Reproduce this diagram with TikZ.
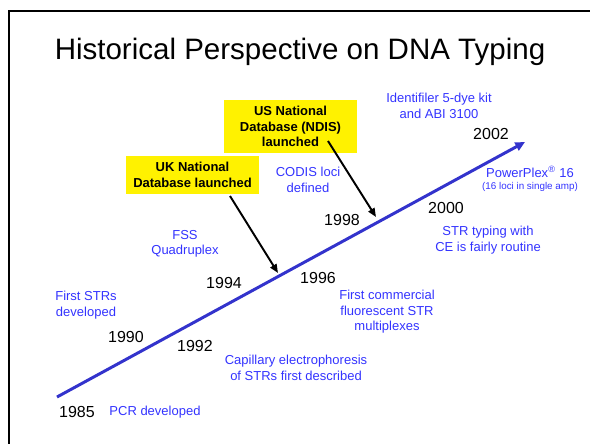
\documentclass[tikz,border=0pt]{standalone}
\usepackage{fontspec}
\setmainfont{Liberation Sans}
\usetikzlibrary{arrows.meta}
\definecolor{evblue}{RGB}{51,51,255}
\definecolor{lineblue}{RGB}{51,51,204}
\begin{document}
\begin{tikzpicture}[x=0.02cm,y=-0.02cm,
  event/.style={text=evblue,align=center,inner sep=0pt,font=\fontsize{7.4}{8.8}\selectfont},
  year/.style={inner sep=0pt,font=\fontsize{9.1}{10}\selectfont},
  dbbox/.style={fill=yellow,align=center,inner sep=0pt,minimum width=2.66cm,font=\bfseries\fontsize{7.4}{8.8}\selectfont},
  pointer/.style={line width=1.1pt,-{Triangle[length=5pt,width=4pt]}},
  timeline/.style={draw=lineblue,line width=1.7pt,-{Triangle[length=5.5pt,width=5pt]}}]
\useasboundingbox (0,0) rectangle (590,444);
\draw[line width=1.1pt] (590,10.7) -- (8.7,10.7) -- (8.7,444);
\node at (300,59) [anchor=base,inner sep=0pt,font=\fontsize{16.8}{20}\selectfont] (title) {Historical Perspective on DNA Typing};

% the time axis
\coordinate (t1985) at (57,397);
\coordinate (t2002) at (525,142);
\draw[timeline] (t1985) -- (t2002);

% years
\node at ( 77,412) [year] (y1985) {1985};
\node at (126,337) [year] (y1990) {1990};
\node at (195,346) [year] (y1992) {1992};
\node at (224,283) [year] (y1994) {1994};
\node at (318,278) [year] (y1996) {1996};
\node at (342,220) [year] (y1998) {1998};
\node at (446,208) [year] (y2000) {2000};
\node at (491,134) [year] (y2002) {2002};

% events
\node at (155,412) [event] (pcr) {PCR developed};
\node at ( 86,305) [event] (firststrs) {First STRs\\developed};
\node at (296,368) [event] (capillary) {Capillary electrophoresis\\of STRs first described};
\node at (185,244) [event] (fss) {FSS\\Quadruplex};
\node at (387,312) [event] (commercial) {First commercial\\fluorescent STR\\multiplexes};
\node at (308,180) [event] (codis) {CODIS loci\\defined};
\node at (488,240) [event] (strce) {STR typing with\\CE is fairly routine};
\node at (439,106) [event] (identifiler) {Identifiler 5-dye kit\\and ABI 3100};
\node at (530,172) [event] (powerplex) {PowerPlex\textsuperscript{\textregistered} 16};
\node at (530,187) [event,font=\fontsize{5.6}{6.5}\selectfont] (ppnote) {(16 loci in single amp)};

% national databases
\node at (192.5,175) [dbbox,minimum height=0.76cm] (ukbox) {UK National\\Database launched};
\node at (290.5,126.5) [dbbox,minimum height=1.06cm] (usbox) {US National\\Database (NDIS)\\launched};

\coordinate (ukfrom) at (230,196);
\coordinate (ukhit) at (278,273);
\coordinate (usfrom) at (328,141);
\coordinate (ushit) at (376,217);
\draw[pointer] (ukfrom) -- (ukhit);
\draw[pointer] (usfrom) -- (ushit);
\end{tikzpicture}
\end{document}
